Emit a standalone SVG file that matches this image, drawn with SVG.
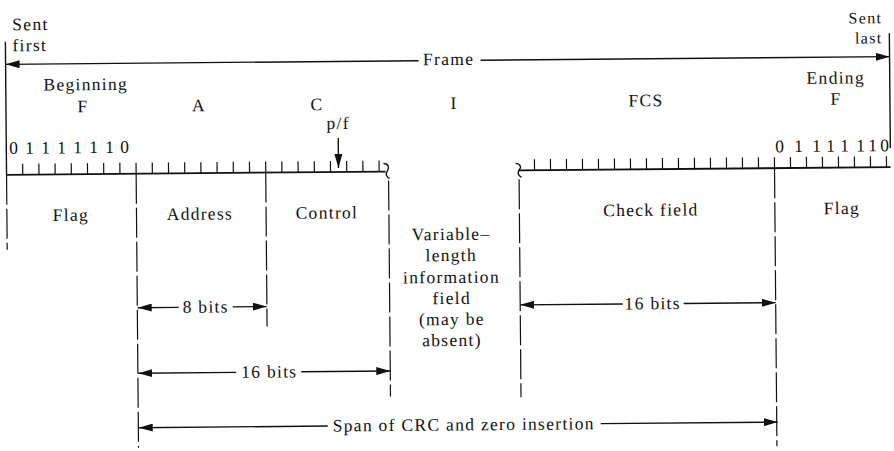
<svg xmlns="http://www.w3.org/2000/svg" width="894" height="451" viewBox="0 0 894 451">
<style>
text{font-family:"Liberation Serif","Times New Roman",serif;font-size:17.5px;letter-spacing:1.3px;fill:#111;text-anchor:middle}
.sm{font-size:16px}
.line{stroke:#111;stroke-width:1.4;fill:none}
.base{stroke:#111;stroke-width:1.8;fill:none}
.tick{stroke:#111;stroke-width:1.2;fill:none}
.dash{stroke:#111;stroke-width:1.2;fill:none;stroke-dasharray:30 4}
</style>
<defs>
<marker id="ah" markerUnits="userSpaceOnUse" markerWidth="15" markerHeight="8" refX="14" refY="4" orient="auto-start-reverse">
<path d="M0,0 L14,4 L0,8 Z" fill="#111"/>
</marker>
</defs>
<rect width="894" height="451" fill="#fff"/>
<g transform="rotate(-0.5 447 225)">
<g id="header">
<text x="14" y="26.5" style="text-anchor:start">Sent</text>
<text x="14" y="47.5" style="text-anchor:start">first</text>
<text class="sm" x="884" y="27" style="text-anchor:end">Sent</text>
<text class="sm" x="884" y="47" style="text-anchor:end">last</text>
<text x="450" y="65">Frame</text>
<text x="87" y="87">Beginning</text>
<text x="84" y="109">F</text>
<text x="200" y="109">A</text>
<text x="318" y="109">C</text>
<text x="455" y="109">I</text>
<text x="647" y="108">FCS</text>
<text x="837" y="87">Ending</text>
<text x="837" y="108">F</text>
<text x="339" y="128">p/f</text>
</g>
<g id="flag-bits">
<text y="150"><tspan x="15">0</tspan><tspan x="31">1</tspan><tspan x="47">1</tspan><tspan x="63">1</tspan><tspan x="79">1</tspan><tspan x="95">1</tspan><tspan x="111">1</tspan><tspan x="126">0</tspan></text>
<text y="155"><tspan x="781">0</tspan><tspan x="800">1</tspan><tspan x="818">1</tspan><tspan x="832">1</tspan><tspan x="846">1</tspan><tspan x="862">1</tspan><tspan x="874">1</tspan><tspan x="886">0</tspan></text>
</g>
<g id="bit-rule">
<path class="base" d="M7,171 H386"/>
<path class="base" d="M519,171 H891"/>
<path class="tick" d="M23.2,171V160M39.4,171V160M55.6,171V160M71.8,171V160M88,171V160M104.2,171V160M120.4,171V160M136.6,171V160M152.8,171V160M169,171V160M185.2,171V160M201.4,171V160M217.6,171V160M233.8,171V160M250,171V160M266.2,171V160M282.4,171V160M298.6,171V160M314.8,171V160M331,171V160M347.2,171V160M363.4,171V160M379.6,171V160"/>
<path class="tick" d="M535,171V160M551,171V160M567,171V160M583,171V160M599,171V160M615,171V160M631,171V160M647,171V160M663,171V160M679,171V160M695,171V160M711,171V160M727,171V160M743,171V160M759,171V160M775,171V160M791,171V160M807,171V160M823,171V160M839,171V160M855,171V160M871,171V160M887,171V160"/>
<path class="line" d="M384,163 C389,163 390,167 388,170 C386,173 386,176 390,178"/>
<path class="line" d="M516,164 C521,164 522,168 520,170 C518,173 518,176 522,178"/>
<path class="line" d="M7,38 V171"/>
<path class="line" d="M891,37 V152"/>
</g>
<g id="field-bounds">
<path class="dash" d="M7,171 V246"/>
<path class="dash" d="M136.6,171 V445"/>
<path class="dash" d="M266.2,171 V325"/>
<path class="dash" d="M389,180 V396"/>
<path class="dash" d="M519.5,180 V398"/>
<path class="dash" d="M775,171 V449"/>
</g>
<g id="field-labels">
<text x="71" y="217.5">Flag</text>
<text x="200" y="217.5">Address</text>
<text x="327" y="217.5">Control</text>
<text x="651" y="217.5">Check field</text>
<text x="842" y="217.5">Flag</text>
<text x="451" y="240">Variable–</text>
<text x="451" y="261">length</text>
<text x="451" y="283">information</text>
<text x="451" y="304">field</text>
<text x="451" y="325">(may be</text>
<text x="451" y="346">absent)</text>
</g>
<g id="connectors">
<path class="line" d="M420,60.5 H7" marker-end="url(#ah)"/>
<path class="line" d="M482,60.5 H891" marker-end="url(#ah)"/>
<path class="line" d="M339,137 V167" marker-end="url(#ah)"/>
<path class="line" d="M178,305 H137" marker-end="url(#ah)"/>
<path class="line" d="M232,305 H266" marker-end="url(#ah)"/>
<path class="line" d="M235,370.5 H137" marker-end="url(#ah)"/>
<path class="line" d="M300,370.5 H389" marker-end="url(#ah)"/>
<path class="line" d="M622,305.5 H519.5" marker-end="url(#ah)"/>
<path class="line" d="M683,305.5 H775" marker-end="url(#ah)"/>
<path class="line" d="M326,425 H137" marker-end="url(#ah)"/>
<path class="line" d="M599,425 H776" marker-end="url(#ah)"/>
</g>
<g id="dimension-labels">
<text x="205" y="310.5">8 bits</text>
<text x="268" y="376">16 bits</text>
<text x="652" y="311">16 bits</text>
<text x="462" y="430.5">Span of CRC and zero insertion</text>
</g>
</g>
</svg>
